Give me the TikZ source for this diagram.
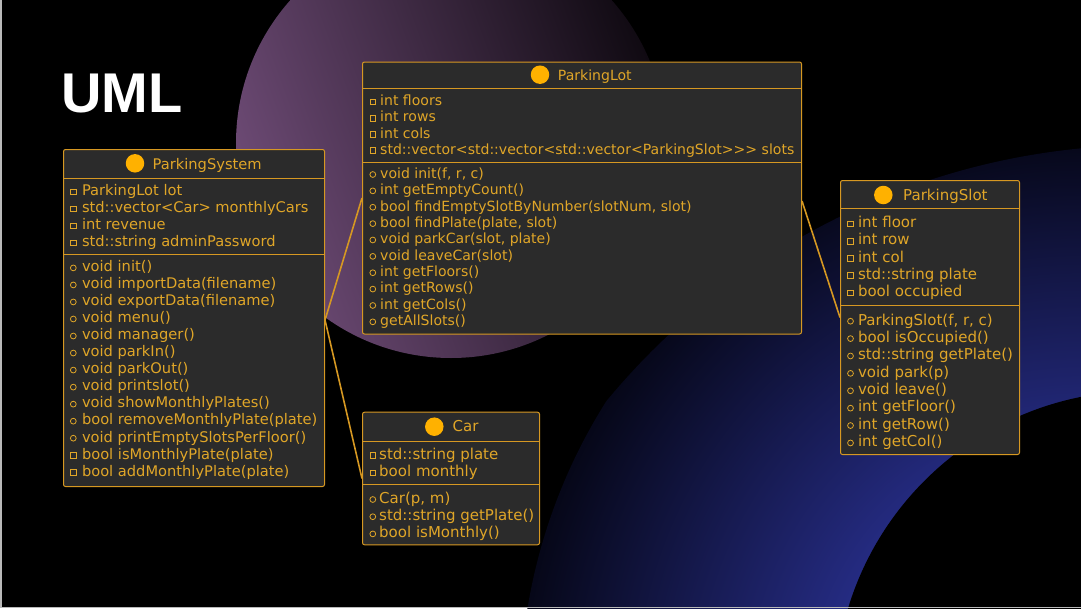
\documentclass[tikz,border=0pt]{standalone}
\usepackage{fontspec}
\newfontfamily\umlfont{DejaVu Sans}[Ligatures=TeXOff]
\newfontfamily\headfont{Liberation Sans}
\definecolor{gold}{RGB}{224,166,40}
\definecolor{bord}{RGB}{214,152,34}
\definecolor{boxfill}{RGB}{43,43,43}
\definecolor{dotc}{RGB}{255,177,0}
\definecolor{purp}{RGB}{110,75,118}
\definecolor{purpdark}{RGB}{16,10,18}
\definecolor{navy}{RGB}{46,54,162}
\definecolor{glowout}{RGB}{6,7,24}
\pgfdeclareradialshading{blueglow}{\pgfpoint{0bp}{0bp}}{color(0bp)=(navy); color(7bp)=(navy); color(25bp)=(glowout); color(50bp)=(glowout)}
\def\msize{14}
\tikzset{
  cbox/.style={draw=bord, fill=boxfill, line width=1pt, rounded corners=2pt, inner sep=0, anchor=north west},
  sepl/.style={draw=bord, line width=1pt},
  conn/.style={draw=bord, line width=1.6pt},
  mtxt/.style={text=gold, anchor=base west, inner sep=0, font=\umlfont\fontsize{\msize}{\msize}\selectfont},
  sq/.style={draw=gold, line width=0.8pt, rectangle, minimum size=5.6pt, inner sep=0},
  ci/.style={draw=gold, line width=0.8pt, circle, minimum size=5.8pt, inner sep=0},
  hdot/.style={circle, fill=dotc, minimum size=18.5pt, inner sep=0},
}
\newcommand\members[6]{%
  \foreach \ic/\t [count=\i] in {#6}{%
    \pgfmathsetmacro\yy{#4+(\i-1)*#5}%
    \node[\ic] (#1\i i) at (#2,\yy-3.8) {};
    \node[mtxt] (#1\i) at (#3,\yy) {\t};
  }%
}
\begin{document}
\begin{tikzpicture}[x=1pt,y=-1pt]
\useasboundingbox (0,0) rectangle (1081,608);
\fill[black] (0,0) rectangle (1081,608);
\begin{scope}
  \clip (0,0) rectangle (1081,608);
  \begin{scope}
    \clip (1150,850) circle (705);
    \shade[shading=blueglow] (1080,700) circle (560);
  \end{scope}
  \shade[top color=purp, bottom color=purpdark, shading angle=110] (451,143) circle (215);
  \fill[black] (1141,697) circle (306);
  \draw[gray!55, line width=1.5pt] (0.75,0) -- (0.75,607.25) -- (1081,607.25);
\end{scope}

\node[anchor=base west, inner sep=0, text=white, font=\headfont\bfseries\fontsize{56}{56}\selectfont] (title) at (61,112.7) {UML};

% boxes
\node[cbox, minimum width=261pt, minimum height=337pt] (ps) at (63,149) {};
\node[cbox, minimum width=439pt, minimum height=272pt] (pl) at (362,61.5) {};
\node[cbox, minimum width=179pt, minimum height=274pt] (slot) at (840,180) {};
\node[cbox, minimum width=177pt, minimum height=132.6pt] (car) at (362,411.7) {};

% connectors
\draw[conn] ([yshift=-2pt]ps.east) -- (pl.west);
\draw[conn] ([yshift=-2pt]ps.east) -- (car.west);
\draw[conn] ([yshift=-3pt]pl.east) -- (slot.west);

% separators
\draw[sepl] ([yshift=-29pt]ps.north west) -- ([yshift=-29pt]ps.north east);
\draw[sepl] ([yshift=-105pt]ps.north west) -- ([yshift=-105pt]ps.north east);
\draw[sepl] ([yshift=-26.8pt]pl.north west) -- ([yshift=-26.8pt]pl.north east);
\draw[sepl] ([yshift=-100.5pt]pl.north west) -- ([yshift=-100.5pt]pl.north east);
\draw[sepl] ([yshift=-28.3pt]slot.north west) -- ([yshift=-28.3pt]slot.north east);
\draw[sepl] ([yshift=-125pt]slot.north west) -- ([yshift=-125pt]slot.north east);
\draw[sepl] ([yshift=-29.3pt]car.north west) -- ([yshift=-29.3pt]car.north east);
\draw[sepl] ([yshift=-72.3pt]car.north west) -- ([yshift=-72.3pt]car.north east);

% ParkingSystem
\def\msize{14.65}
\node[hdot] (psd) at (135,163.3) {};
\node[mtxt] (pst) at (152.5,169) {ParkingSystem};
\members{psa}{73.3}{81.8}{195.7}{17}{sq/ParkingLot lot, sq/std::vector<Car> monthlyCars, sq/int revenue, sq/std::string adminPassword}
\members{psm}{73.3}{81.8}{271.7}{17.03}{ci/void init(), ci/void importData(filename), ci/void exportData(filename), ci/void menu(), ci/void manager(), ci/void parkIn(), ci/void parkOut(), ci/void printslot(), ci/void showMonthlyPlates(), ci/bool removeMonthlyPlate(plate), ci/void printEmptySlotsPerFloor(), sq/bool isMonthlyPlate(plate), sq/bool addMonthlyPlate(plate)}

% ParkingLot
\def\msize{14.05}
\node[hdot] (pld) at (540,74.7) {};
\node[mtxt] (plt) at (557.7,80) {ParkingLot};
\members{pla}{372.8}{380}{105.7}{16.2}{sq/int floors, sq/int rows, sq/int cols, sq/std::vector<std::vector<std::vector<ParkingSlot>>> slots}
\members{plm}{372.8}{380}{178.3}{16.37}{ci/{void init(f, r, c)}, ci/int getEmptyCount(), ci/{bool findEmptySlotByNumber(slotNum, slot)}, ci/{bool findPlate(plate, slot)}, ci/{void parkCar(slot, plate)}, ci/void leaveCar(slot), ci/int getFloors(), ci/int getRows(), ci/int getCols(), ci/getAllSlots()}

% ParkingSlot
\def\msize{15}
\node[hdot] (sld) at (883.3,195) {};
\node[mtxt] (slt) at (903,200) {ParkingSlot};
\members{sla}{850.5}{857.8}{227.7}{17.25}{sq/int floor, sq/int row, sq/int col, sq/std::string plate, sq/bool occupied}
\members{slm}{850.5}{857.8}{325}{17.39}{ci/{ParkingSlot(f, r, c)}, ci/bool isOccupied(), ci/std::string getPlate(), ci/void park(p), ci/void leave(), ci/int getFloor(), ci/int getRow(), ci/int getCol()}

% Car
\def\msize{15}
\node[hdot] (cd) at (434.3,426.7) {};
\node[mtxt] (ct) at (452.5,431.7) {Car};
\members{ca}{372.8}{379}{459.3}{17.4}{sq/std::string plate, sq/bool monthly}
\members{cm}{372.8}{379}{503.3}{17.2}{ci/{Car(p, m)}, ci/std::string getPlate(), ci/bool isMonthly()}
\end{tikzpicture}
\end{document}
